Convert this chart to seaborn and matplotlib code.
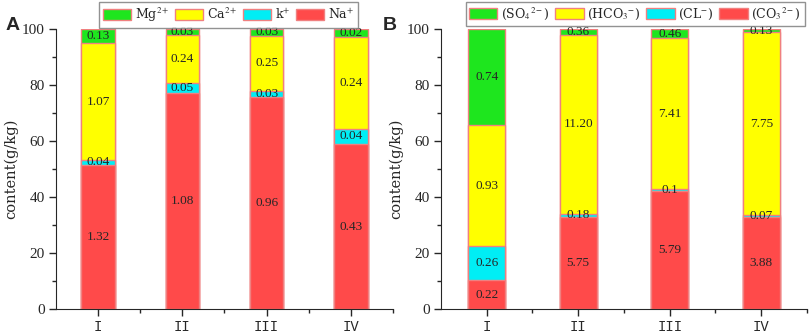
import numpy as np
import pandas as pd
import seaborn as sns
import matplotlib.pyplot as plt
from matplotlib.patches import Patch
from matplotlib.ticker import MultipleLocator, FixedLocator

categories = ['I', 'II', 'III', 'IV']

# panel A, cations (g/kg), bottom -> top
na = ['1.32', '1.08', '0.96', '0.43']
k = ['0.04', '0.05', '0.03', '0.04']
ca = ['1.07', '0.24', '0.25', '0.24']
mg = ['0.13', '0.03', '0.03', '0.02']
cation_names = ['Na$^{+}$', 'k$^{+}$', 'Ca$^{2+}$', 'Mg$^{2+}$']

# panel B, anions (g/kg), bottom -> top
co3 = ['0.22', '5.75', '5.79', '3.88']
cl = ['0.26', '0.18', '0.1', '0.07']
hco3 = ['0.93', '11.20', '7.41', '7.75']
so4 = ['0.74', '0.36', '0.46', '0.13']
anion_names = ['(CO$_3$$^{2-}$)', '(CL$^{-}$)', '(HCO$_3$$^{-}$)', '(SO$_4$$^{2-}$)']

colors = ['#ff4a4a', '#00eef5', '#ffff00', '#1ee61e']
edge = '#f08080'
mono = 'Liberation Mono'
wide_serif = 'DejaVu Serif'

sns.set_style('ticks')
plt.rcParams['font.family'] = ['Liberation Serif', 'DejaVu Serif']
plt.rcParams['mathtext.fontset'] = 'stix'

fig = plt.figure(figsize=(8.09, 3.34), dpi=100)
axA = fig.add_axes([0.0692, 0.0749, 0.4166, 0.8383])
axB = fig.add_axes([0.5451, 0.0749, 0.4524, 0.8383])


def draw_panel(ax, layers, names, legend_x):
    vals = np.array([[float(v) for v in layer] for layer in layers])
    pct = vals / vals.sum(axis=0) * 100
    cum = np.cumsum(pct, axis=0)
    # draw from the top layer down so lower segments overlay
    for i in range(len(layers) - 1, -1, -1):
        df = pd.DataFrame({'cat': categories, 'top': cum[i]})
        sns.barplot(data=df, x='cat', y='top', color=colors[i], saturation=1,
                    edgecolor=edge, linewidth=1, width=0.4, ax=ax)
    for i, layer in enumerate(layers):
        for j, lab in enumerate(layer):
            mid = cum[i][j] - pct[i][j] / 2
            ax.text(j, mid, lab, ha='center', va='center', fontsize=9.5)
    ax.set_xlim(-0.5, 3.5)
    ax.set_ylim(0, 100)
    ax.yaxis.set_major_locator(MultipleLocator(20))
    ax.yaxis.set_minor_locator(MultipleLocator(10))
    ax.xaxis.set_minor_locator(FixedLocator([0.5, 1.5, 2.5, 3.5]))
    ax.tick_params(which='major', length=5, width=1, labelsize=11, direction='out', pad=3)
    ax.tick_params(which='minor', length=3, width=1, direction='out')
    for t in ax.get_xticklabels():
        t.set_family(mono)
        t.set_fontsize(10)
    ax.set_xlabel('')
    ax.set_ylabel('content(g/kg)', fontsize=10.5, family=wide_serif, labelpad=3)
    ax.spines[['top', 'right']].set_visible(False)
    handles = [Patch(facecolor=colors[i], edgecolor=edge, linewidth=1, label=names[i])
               for i in range(len(layers) - 1, -1, -1)]
    leg = fig.legend(handles=handles, loc='upper center', bbox_to_anchor=(legend_x, 0.998),
                     ncol=4, frameon=True, fancybox=False,
                     prop={'family': wide_serif, 'size': 9},
                     handlelength=2.25, handleheight=0.95, columnspacing=0.45,
                     handletextpad=0.3, borderpad=0.3, borderaxespad=0.1)
    leg.get_frame().set_edgecolor('#777777')
    leg.get_frame().set_linewidth(1)


draw_panel(axA, [na, k, ca, mg], cation_names, 0.2824)
draw_panel(axB, [co3, cl, hco3, so4], anion_names, 0.785)

fig.text(0.007, 0.91, 'A', fontsize=14, fontweight='bold', family='Liberation Sans')
fig.text(0.473, 0.91, 'B', fontsize=14, fontweight='bold', family='Liberation Sans')

fig.savefig('out.png', dpi=100)
